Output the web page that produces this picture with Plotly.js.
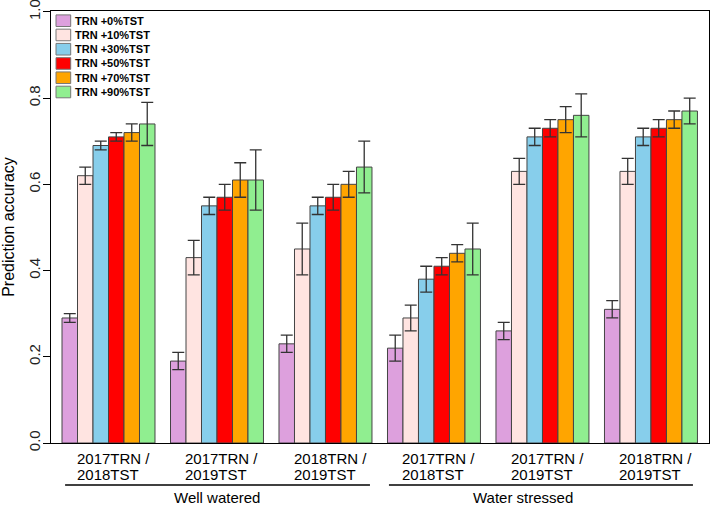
<!DOCTYPE html>
<html>
<head>
<meta charset="utf-8">
<script src="https://cdn.plot.ly/plotly-3.0.1.min.js"></script>
<style>html,body{margin:0;padding:0;background:#fff;}#chart{width:713px;height:506px;}</style>
</head>
<body>
<div id="chart"></div>
<script>
// ---- data ----
const conditions = ['Well watered', 'Well watered', 'Well watered', 'Water stressed', 'Water stressed', 'Water stressed'];
const labelLine1 = ['2017TRN /', '2017TRN /', '2018TRN /', '2017TRN /', '2017TRN /', '2018TRN /'];
const labelLine2 = ['2018TST', '2019TST', '2019TST', '2018TST', '2019TST', '2019TST'];
const categories = labelLine1.map((a, i) => conditions[i] + ': ' + a + ' ' + labelLine2[i]);
const seriesNames = ['TRN +0%TST', 'TRN +10%TST', 'TRN +30%TST', 'TRN +50%TST', 'TRN +70%TST', 'TRN +90%TST'];
const seriesColors = ['#DDA0DD', '#FFE4E1', '#87CEEB', '#FF0000', '#FFA500', '#90EE90'];
const tst0  = [0.29, 0.19, 0.23, 0.22, 0.26, 0.31];
const tst10 = [0.62, 0.43, 0.45, 0.29, 0.63, 0.63];
const tst30 = [0.69, 0.55, 0.55, 0.38, 0.71, 0.71];
const tst50 = [0.71, 0.57, 0.57, 0.41, 0.73, 0.73];
const tst70 = [0.72, 0.61, 0.60, 0.44, 0.75, 0.75];
const tst90 = [0.74, 0.61, 0.64, 0.45, 0.76, 0.77];
const err0  = [0.01, 0.02, 0.02, 0.03, 0.02, 0.02];
const err10 = [0.02, 0.04, 0.06, 0.03, 0.03, 0.03];
const err30 = [0.01, 0.02, 0.02, 0.03, 0.02, 0.02];
const err50 = [0.01, 0.03, 0.03, 0.02, 0.02, 0.02];
const err70 = [0.02, 0.04, 0.03, 0.02, 0.03, 0.02];
const err90 = [0.05, 0.07, 0.06, 0.06, 0.05, 0.03];
const groupLabels = ['Well watered', 'Water stressed'];
const yTickVals = [0, 0.2, 0.4, 0.6, 0.8, 1.0];
const yTickText = ['0.0', '0.2', '0.4', '0.6', '0.8', '1.0'];
const yTitle = 'Prediction accuracy';

const seriesValues = [tst0, tst10, tst30, tst50, tst70, tst90];
const seriesErrors = [err0, err10, err30, err50, err70, err90];

// ---- drawing ----
const FONT = 'Arial, "Liberation Sans", sans-serif';
const traces = seriesNames.map((name, k) => ({
  type: 'bar',
  name: name,
  x: categories,
  y: seriesValues[k],
  marker: {color: seriesColors[k], line: {color: '#444', width: 1}},
  error_y: {type: 'data', array: seriesErrors[k], visible: true, color: '#333', thickness: 1.3, width: 6},
  showlegend: false,
  hoverinfo: 'x+y+name'
}));

const plotTop = 11, plotBottom = 443, plotH = plotBottom - plotTop;
const plotLeft = 51, plotRight = 709, plotW = plotRight - plotLeft;
const py = Y => (plotBottom - Y) / plotH;   // pixel row -> paper y
const px = X => (X - plotLeft) / plotW;     // pixel col -> paper x

const annotations = [];
const shapes = [];

// category labels (two left-aligned lines)
categories.forEach((c, i) => {
  annotations.push({xref: 'x', yref: 'paper', x: i - 0.31, y: py(458), xanchor: 'left', yanchor: 'middle',
    text: labelLine1[i], showarrow: false, font: {family: FONT, size: 15, color: '#000'}});
  annotations.push({xref: 'x', yref: 'paper', x: i - 0.31, y: py(474), xanchor: 'left', yanchor: 'middle',
    text: labelLine2[i], showarrow: false, font: {family: FONT, size: 15, color: '#000'}});
});

// group underlines and labels
const groupSpans = [[-0.40, 2.41], [2.585, 5.387]];
const groupLabelX = [1.0, 3.82];
groupLabels.forEach((g, j) => {
  shapes.push({type: 'line', xref: 'x', yref: 'paper', x0: groupSpans[j][0], x1: groupSpans[j][1],
    y0: py(485), y1: py(485), line: {color: '#000', width: 1.3}});
  annotations.push({xref: 'x', yref: 'paper', x: groupLabelX[j], y: py(497), xanchor: 'center', yanchor: 'middle',
    text: g, showarrow: false, font: {family: FONT, size: 15, color: '#000'}});
});

// legend (top-left, no border)
seriesNames.forEach((name, k) => {
  const cy = 20.7 + 14.26 * k;
  shapes.push({type: 'rect', xref: 'paper', yref: 'paper', x0: px(56), x1: px(70.7), y0: py(cy + 5.8), y1: py(cy - 5.8),
    fillcolor: seriesColors[k], line: {color: '#777', width: 1}});
  annotations.push({xref: 'paper', yref: 'paper', x: px(72.5), y: py(cy), xanchor: 'left', yanchor: 'middle',
    text: '<b>' + name + '</b>', showarrow: false, font: {family: FONT, size: 11, color: '#000'}});
});

const layout = {
  width: 713, height: 506,
  margin: {l: plotLeft, r: 713 - plotRight, t: plotTop, b: 506 - plotBottom},
  paper_bgcolor: '#fff', plot_bgcolor: '#fff',
  barmode: 'group', bargap: 0.143, bargroupgap: 0,
  showlegend: false,
  xaxis: {type: 'category', range: [-0.53, 5.535], showticklabels: false, ticks: '', showgrid: false, zeroline: false,
    showline: true, mirror: true, linecolor: '#000', linewidth: 1.3, fixedrange: true},
  yaxis: {range: [0, 1.002], tickmode: 'array', tickvals: yTickVals, ticktext: yTickText,
    ticks: 'outside', ticklen: 7, tickwidth: 1, tickcolor: '#000', ticklabeloverflow: 'allow',
    tickangle: -90, ticklabelstandoff: -3, showgrid: false, zeroline: false, showline: true, mirror: true, linecolor: '#000', linewidth: 1.3,
    tickfont: {family: FONT, size: 15, color: '#222'},
    title: {text: yTitle, font: {family: FONT, size: 16, color: '#000'}, standoff: 10}},
  annotations: annotations,
  shapes: shapes
};

Plotly.newPlot('chart', traces, layout, {displayModeBar: false, staticPlot: true});
</script>
</body>
</html>
